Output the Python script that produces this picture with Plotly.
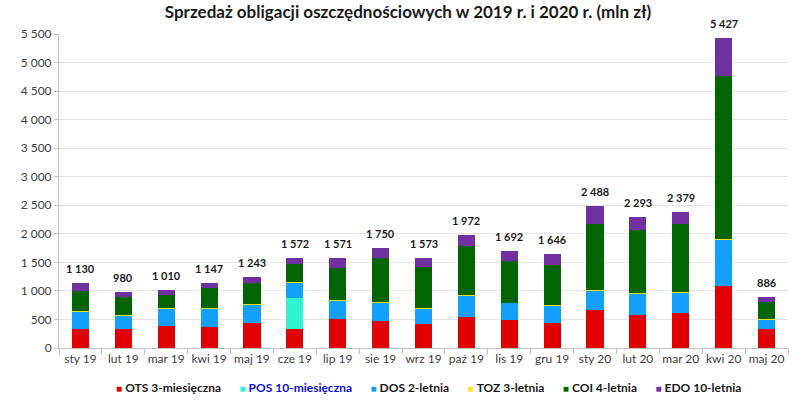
import plotly.graph_objects as go

months = ["sty 19", "lut 19", "mar 19", "kwi 19", "maj 19", "cze 19", "lip 19", "sie 19",
          "wrz 19", "paź 19", "lis 19", "gru 19", "sty 20", "lut 20", "mar 20", "kwi 20", "maj 20"]

ots = [330, 325, 390, 365, 430, 325, 500, 480, 415, 535, 485, 430, 660, 575, 605, 1090, 335]
pos = [None, None, None, None, None, 550, None, None, None, None, None, None, None, None, None, None, None]
dos = [310, 250, 300, 335, 330, 275, 335, 310, 278, 385, 305, 318, 340, 375, 360, 810, 160]
toz = [5, 5, 5, 5, 5, 3, 5, 8, 5, 8, 6, 5, 8, 8, 8, 10, 5]
coi = [345, 305, 225, 345, 378, 325, 570, 780, 715, 860, 720, 695, 1160, 1110, 1195, 2860, 300]
edo = [140, 95, 90, 97, 100, 94, 161, 172, 160, 184, 176, 198, 320, 225, 211, 657, 86]
totals = [1130, 980, 1010, 1147, 1243, 1572, 1571, 1750, 1573, 1972, 1692, 1646, 2488, 2293, 2379, 5427, 886]

series_names = ["OTS 3-miesięczna", "POS 10-miesięczna", "DOS 2-letnia", "TOZ 3-letnia",
                "COI 4-letnia", "EDO 10-letnia"]
series_values = [ots, pos, dos, toz, coi, edo]
series_colors = ["#E00000", "#2EF5D0", "#12A0FF", "#FFE11A", "#006400", "#7030A0"]
label_colors = ["#1a1a1a", "#1010D0", "#1a1a1a", "#1a1a1a", "#1a1a1a", "#1a1a1a"]

FONT = "Lato"
fig = go.Figure()
for name, vals, col in zip(series_names, series_values, series_colors):
    fig.add_trace(go.Bar(x=months, y=vals, name=name,
                         marker=dict(color=col, line=dict(width=0))))

def fmt(v):
    return f"{v:,}".replace(",", " ")

for m, t in zip(months, totals):
    fig.add_annotation(x=m, y=t, text=f"<b>{fmt(t)}</b>", showarrow=False,
                       yanchor="bottom", yshift=6,
                       font=dict(family=FONT, size=11, color="#1a1a1a"))

# legend drawn as one line of text with coloured squares
parts = []
for name, col, lc in zip(series_names, series_colors, label_colors):
    parts.append(f"<span style='color:{col};font-size:10px'>■</span>&nbsp;"
                 f"<span style='color:{lc}'><b>{name}</b></span>")
legend_text = "&nbsp;&nbsp;&nbsp;&nbsp;&nbsp;&nbsp;".join(parts)
fig.add_annotation(xref="paper", yref="paper", x=0.5075, y=-0.127, xanchor="center",
                   yanchor="middle", text=legend_text, showarrow=False,
                   font=dict(family=FONT, size=12, color="#1a1a1a"))

fig.update_layout(
    barmode="stack",
    bargap=0.6,
    width=800, height=403,
    paper_bgcolor="white", plot_bgcolor="white",
    separators=", ",
    margin=dict(l=59, r=12, t=34, b=55, autoexpand=False),
    title=dict(text="<b>Sprzedaż obligacji oszczędnościowych w 2019 r. i 2020 r. (mln zł)</b>",
               x=0.51, xanchor="center", y=0.985, yanchor="top",
               font=dict(family=FONT, size=17, color="#1a1a1a")),
    font=dict(family=FONT, size=12, color="#404040"),
    showlegend=False,
)
fig.update_yaxes(range=[0, 5500], dtick=500, tickformat=",d", showgrid=True,
                 gridcolor="#E4E4E4", gridwidth=1, showline=True, linecolor="#BFBFBF",
                 ticks="outside", tickcolor="#BFBFBF", ticklen=4, zeroline=False,
                 tickfont=dict(family=FONT, size=12, color="#404040"))
fig.update_xaxes(showline=True, linecolor="#BFBFBF", ticks="outside", tickcolor="#BFBFBF",
                 ticklen=5, tickson="boundaries", showgrid=False, tickangle=0,
                 tickfont=dict(family=FONT, size=12, color="#404040"))

fig.write_html("out.html", config={"displayModeBar": False},
               post_script="document.body.style.margin='0';")
